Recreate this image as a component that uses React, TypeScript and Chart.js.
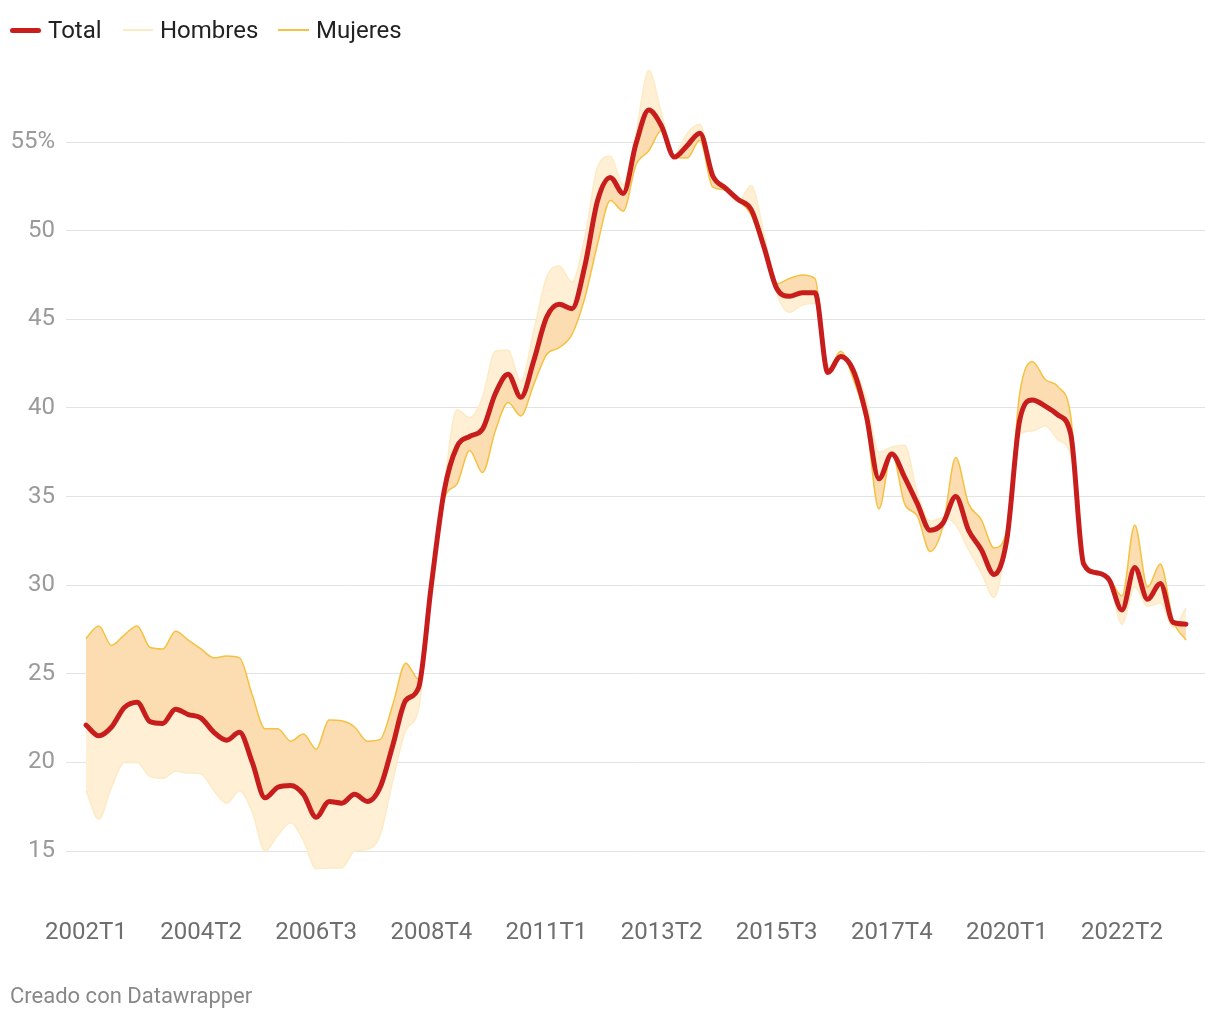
import React, { useEffect, useRef } from 'react';
import { Chart, registerables } from 'chart.js';

Chart.register(...registerables);

// Quarter categories 2002T1 .. 2023T3
const categories: string[] = [];
for (let y = 2002; y <= 2023; y++) {
  for (let q = 1; q <= 4; q++) categories.push(`${y}T${q}`);
}
categories.splice(87);

const tickLabels = ['2002T1', '2004T2', '2006T3', '2008T4', '2011T1', '2013T2', '2015T3', '2017T4', '2020T1', '2022T2'];
const yTicks = [15, 20, 25, 30, 35, 40, 45, 50, 55];

const total = [
  22.1, 21.5, 22.0, 23.1, 23.4, 22.3, 22.2, 23.0, 22.7, 22.5,
  21.7, 21.25, 21.7, 20.0, 18.0, 18.6, 18.7, 18.2, 16.9, 17.8,
  17.7, 18.2, 17.8, 18.6, 21.0, 23.5, 24.2, 30.0, 35.3, 37.8,
  38.4, 38.8, 40.8, 41.9, 40.6, 42.65, 45.1, 45.85, 45.6, 48.0,
  51.7, 53.0, 52.1, 54.9, 56.8, 55.9, 54.15, 54.8, 55.5, 53.1,
  52.4, 51.75, 51.2, 49.1, 46.75, 46.3, 46.5, 46.5, 42.0, 42.9,
  42.1, 39.6, 36.0, 37.4, 36.1, 34.6, 33.1, 33.5, 35.0, 33.1,
  32.0, 30.6, 32.6, 39.3, 40.45, 40.1, 39.6, 38.5, 31.2, 30.7,
  30.3, 28.6, 31.0, 29.2, 30.1, 27.9, 27.8,
];

const hombres = [
  18.4, 16.8, 18.6, 20.0, 20.0, 19.2, 19.1, 19.5, 19.4, 19.35,
  18.4, 17.7, 18.4, 17.2, 15.0, 15.9, 16.6, 15.6, 14.0, 14.05,
  14.05, 15.0, 15.1, 15.9, 19.0, 21.8, 23.0, 30.1, 35.6, 39.9,
  39.45, 40.6, 43.2, 43.25, 41.5, 44.3, 47.35, 48.0, 47.1, 49.6,
  53.6, 54.2, 52.6, 55.5, 59.05, 56.6, 54.3, 55.5, 56.0, 53.2,
  52.3, 51.6, 52.55, 49.85, 46.5, 45.4, 45.8, 45.9, 41.9, 42.9,
  42.3, 40.5, 37.5, 37.8, 37.9, 35.2, 33.6, 33.8, 33.4, 32.0,
  30.7, 29.3, 32.7, 38.5, 38.7, 39.0, 38.2, 37.3, 31.1, 30.6,
  30.2, 27.8, 29.9, 28.8, 29.0, 27.6, 28.7,
];

const mujeres = [
  27.0, 27.7, 26.6, 27.2, 27.7, 26.5, 26.4, 27.4, 26.9, 26.4,
  25.9, 26.0, 25.9, 23.8, 21.9, 21.9, 21.2, 21.6, 20.75, 22.4,
  22.35, 22.0, 21.2, 21.3, 23.3, 25.6, 24.7, 29.9, 34.85, 35.7,
  37.6, 36.35, 38.7, 40.3, 39.55, 41.3, 43.0, 43.4, 44.15, 46.2,
  49.25, 51.7, 51.1, 53.7, 54.5, 55.65, 54.15, 54.1, 55.1, 52.45,
  52.3, 51.7, 50.9, 48.9, 47.0, 47.3, 47.5, 47.3, 42.1, 43.2,
  41.6, 39.2, 34.3, 37.5, 34.6, 33.9, 31.9, 33.3, 37.2, 34.6,
  33.7, 32.1, 33.1, 40.8, 42.6, 41.6, 41.2, 39.5, 31.3, 30.8,
  30.4, 29.4, 33.4, 29.9, 31.2, 28.0, 26.9,
];

const RED = '#c71e1d';
const YELLOW = '#f4c243';
const PALE_LINE = '#fdebc6';
const ORANGE_FILL = '#fcdcb1';
const PALE_FILL = '#feefd5';

const toPoints = (arr: number[]) => arr.map((v, i) => ({ x: i, y: v }));

export default function App() {
  const canvasRef = useRef<HTMLCanvasElement | null>(null);

  useEffect(() => {
    if (!canvasRef.current) return;
    Chart.defaults.font.family = 'Roboto';
    const chart = new Chart(canvasRef.current, {
      type: 'line',
      data: {
        datasets: [
          {
            label: 'Total',
            data: toPoints(total),
            borderColor: RED,
            borderWidth: 5,
            borderCapStyle: 'round',
            borderJoinStyle: 'round',
            pointRadius: 0,
            fill: false,
            cubicInterpolationMode: 'monotone',
            order: 0,
          },
          {
            label: 'Hombres',
            data: toPoints(hombres),
            borderColor: PALE_LINE,
            borderWidth: 1.5,
            pointRadius: 0,
            fill: { target: 0, above: PALE_FILL, below: PALE_FILL },
            cubicInterpolationMode: 'monotone',
            order: 2,
          },
          {
            label: 'Mujeres',
            data: toPoints(mujeres),
            borderColor: YELLOW,
            borderWidth: 1.5,
            pointRadius: 0,
            fill: { target: 0, above: ORANGE_FILL, below: ORANGE_FILL },
            cubicInterpolationMode: 'monotone',
            order: 1,
          },
        ],
      } as any,
      options: {
        animation: false,
        responsive: false,
        devicePixelRatio: 1,
        layout: { padding: { top: 53.4, bottom: 73.5, left: 0, right: 15 } },
        plugins: {
          legend: { display: false },
          tooltip: { enabled: false },
        },
        scales: {
          x: {
            type: 'linear',
            min: -1.564,
            max: 87.49,
            afterBuildTicks: (s: any) => {
              s.ticks = tickLabels.map((l) => ({ value: categories.indexOf(l) }));
            },
            afterFit: (s: any) => {
              s.height = 60;
            },
            ticks: {
              autoSkip: false,
              maxRotation: 0,
              padding: 24,
              color: '#6e6e6e',
              font: { size: 24 },
              callback: (v: any) => categories[Math.round(Number(v))] ?? '',
            },
            grid: { display: false },
            border: { display: false },
          },
          y: {
            min: 13,
            max: 60,
            afterBuildTicks: (s: any) => {
              s.ticks = yTicks.map((v) => ({ value: v }));
            },
            afterFit: (s: any) => {
              s.width = 66;
            },
            ticks: {
              padding: 11,
              color: '#9a9a9a',
              font: { size: 24 },
              callback: (v: any) => (Number(v) === 55 ? '55%' : String(v)),
            },
            grid: { color: '#e3e3e3', lineWidth: 1, drawTicks: false },
            border: { display: false },
          },
        },
      } as any,
    });
    return () => chart.destroy();
  }, []);

  const legendText: React.CSSProperties = {
    position: 'absolute',
    top: 16,
    fontFamily: 'Roboto',
    fontSize: 24,
    lineHeight: '28px',
    color: '#222',
    whiteSpace: 'nowrap',
  };

  return (
    <div style={{ position: 'fixed', left: 0, top: 0, width: 1220, height: 1020, background: '#fff' }}>
      <canvas ref={canvasRef} width={1220} height={1020} style={{ position: 'absolute', left: 0, top: 0, width: 1220, height: 1020 }} />
      <div style={{ position: 'absolute', left: 10, top: 27.5, width: 31, height: 5, borderRadius: 3, background: RED }} />
      <div style={{ ...legendText, left: 48 }}>Total</div>
      <div style={{ position: 'absolute', left: 123, top: 29, width: 30, height: 2, background: PALE_LINE }} />
      <div style={{ ...legendText, left: 160 }}>Hombres</div>
      <div style={{ position: 'absolute', left: 278, top: 29, width: 31, height: 2, background: YELLOW }} />
      <div style={{ ...legendText, left: 316 }}>Mujeres</div>
      <div style={{ position: 'absolute', left: 10, top: 984, fontFamily: 'Roboto', fontSize: 22, lineHeight: '24px', color: '#888', whiteSpace: 'nowrap' }}>
        Creado con Datawrapper
      </div>
    </div>
  );
}
